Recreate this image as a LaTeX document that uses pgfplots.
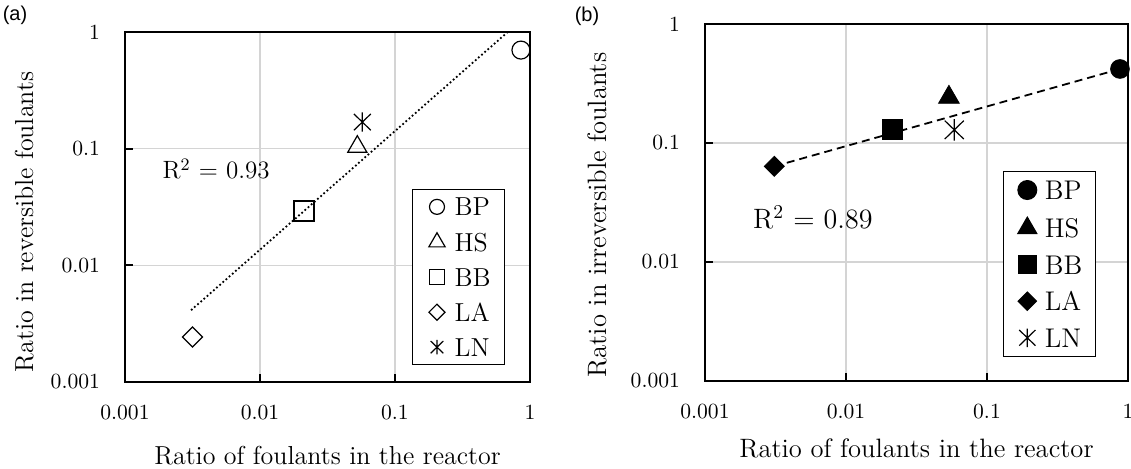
\documentclass[border=0pt]{standalone}
\usepackage{pgfplots}
\pgfplotsset{compat=1.18}
\usepackage{fontspec}
\newfontfamily\arialfont{Liberation Sans}
\pgfdeclareplotmark{xast}{%
  \pgfpathmoveto{\pgfqpoint{0pt}{\pgfplotmarksize}}%
  \pgfpathlineto{\pgfqpoint{0pt}{-\pgfplotmarksize}}%
  \pgfpathmoveto{\pgfqpoint{0.88\pgfplotmarksize}{0.85\pgfplotmarksize}}%
  \pgfpathlineto{\pgfqpoint{-0.88\pgfplotmarksize}{-0.85\pgfplotmarksize}}%
  \pgfpathmoveto{\pgfqpoint{-0.88\pgfplotmarksize}{0.85\pgfplotmarksize}}%
  \pgfpathlineto{\pgfqpoint{0.88\pgfplotmarksize}{-0.85\pgfplotmarksize}}%
  \pgfusepathqstroke}
\begin{document}
\begin{tikzpicture}[x=1pt,y=1pt]
\useasboundingbox (-62.5pt,-43pt) rectangle (503pt,191pt);
\node[font=\arialfont\fontsize{10}{12}\selectfont] at (-55pt,183.5pt) {(a)};
\node[font=\arialfont\fontsize{10}{12}\selectfont] at (231pt,183pt) {(b)};
% ---------------- panel (a)
\begin{axis}[at={(0pt,0pt)}, anchor=south west,
  xmode=log, ymode=log,
  scale only axis,
  width=202.5pt, height=175pt,
  xmin=0.001, xmax=1, ymin=0.001, ymax=1,
  xtick={0.001,0.01,0.1,1}, ytick={0.001,0.01,0.1,1},
  xticklabels={0.001,0.01,0.1,1}, yticklabels={0.001,0.01,0.1,1},
  xminorticks=false, yminorticks=false,
  grid=major,
  major grid style={draw=black!17, line width=0.6pt},
  axis line style={line width=1pt},
  tick align=inside, tick pos=left,
  major tick length=4pt,
  major tick style={black, line width=1pt},
  tick label style={font=\fontsize{10.8}{12}\selectfont},
  xticklabel style={yshift=-8pt},
  yticklabel style={xshift=-9pt},
  label style={font=\fontsize{13}{15}\selectfont},
  clip=false,
  legend cell align=left,
  legend image code/.code={\path (-5pt,0pt) (5pt,0pt); \draw[#1] plot coordinates {(0pt,0pt)};},
  xlabel={Ratio of foulants in the reactor},
  ylabel={Ratio in reversible foulants},
  xlabel style={at={(axis description cs:0.5,-0.209)}, anchor=center},
  ylabel style={at={(axis description cs:-0.249,0.457)}, anchor=center},
  legend style={at={(axis description cs:0.8235,0.30)}, anchor=center, draw=black, line width=0.6pt,
    inner xsep=7pt, inner ysep=4.3pt, font=\fontsize{13}{15}\selectfont, row sep=8.4pt, column sep=3.5pt,
    nodes={text height=9.1pt, text depth=0pt, inner sep=0pt}},
]
\addplot[black, line width=1.25pt, dash pattern=on 0pt off 2.1pt, line cap=round, forget plot] coordinates {(0.00312,0.00417) (0.684,1)};
\addplot[black, only marks, mark=o, mark size=4.5pt, mark options={line width=0.6pt}, forget plot] coordinates {(0.857,0.70)};
\addplot[black, only marks, mark=triangle, mark size=5.5pt, mark options={line width=0.6pt}, forget plot] coordinates {(0.0526,0.104)};
\addplot[black, only marks, mark=square, mark size=5pt, mark options={line width=0.6pt}, forget plot] coordinates {(0.0212,0.0292)};
\addplot[black, only marks, mark=square, mark size=3.54pt, mark options={line width=0.6pt, rotate=45}, forget plot] coordinates {(0.00316,0.00243)};
\addplot[black, only marks, mark=xast, mark size=4.8pt, mark options={line width=0.6pt}, forget plot] coordinates {(0.0573,0.169)};
\addlegendimage{black, mark=o, mark size=3.75pt, mark options={line width=0.6pt}}
\addlegendentry{BP}
\addlegendimage{black, mark=triangle, mark size=4.7pt, mark options={line width=0.6pt}}
\addlegendentry{HS}
\addlegendimage{black, mark=square, mark size=3.75pt, mark options={line width=0.6pt}}
\addlegendentry{BB}
\addlegendimage{black, mark=square, mark size=2.83pt, mark options={line width=0.6pt, rotate=45}}
\addlegendentry{LA}
\addlegendimage{black, mark=xast, mark size=3.6pt, mark options={line width=0.6pt}}
\addlegendentry{LN}
\node[font=\fontsize{12.5}{14}\selectfont] at (axis description cs:0.225,0.609) {R\textsuperscript{2} = 0.93};
\end{axis}
% ---------------- panel (b)
\begin{axis}[at={(290pt,0.5pt)}, anchor=south west,
  xmode=log, ymode=log,
  scale only axis,
  width=211.5pt, height=178.5pt,
  xmin=0.001, xmax=1, ymin=0.001, ymax=1,
  xtick={0.001,0.01,0.1,1}, ytick={0.001,0.01,0.1,1},
  xticklabels={0.001,0.01,0.1,1}, yticklabels={0.001,0.01,0.1,1},
  xminorticks=false, yminorticks=false,
  grid=major,
  major grid style={draw=black!17, line width=0.6pt},
  axis line style={line width=1pt},
  tick align=inside, tick pos=left,
  major tick length=4pt,
  major tick style={black, line width=1pt},
  tick label style={font=\fontsize{10.8}{12}\selectfont},
  xticklabel style={yshift=-8pt},
  yticklabel style={xshift=-9pt},
  label style={font=\fontsize{13.3}{15}\selectfont},
  clip=false,
  legend cell align=left,
  legend image code/.code={\path (-5pt,0pt) (5pt,0pt); \draw[#1] plot coordinates {(0pt,0pt)};},
  xlabel={Ratio of foulants in the reactor},
  ylabel={Ratio in irreversible foulants},
  xlabel style={at={(axis description cs:0.5,-0.188)}, anchor=center},
  ylabel style={at={(axis description cs:-0.255,0.465)}, anchor=center},
  legend style={at={(axis description cs:0.8145,0.328)}, anchor=center, draw=black, line width=0.6pt,
    inner xsep=6.5pt, inner ysep=4.5pt, font=\fontsize{13.5}{15}\selectfont, row sep=8.9pt, column sep=3.5pt,
    nodes={text height=9.4pt, text depth=0pt, inner sep=0pt}},
]
\addplot[black, line width=0.9pt, dash pattern=on 4pt off 2.5pt, forget plot] coordinates {(0.0031,0.0637) (0.877,0.419)};
\addplot[black, only marks, mark=*, mark size=4.7pt, forget plot] coordinates {(0.877,0.419)};
\addplot[black, only marks, mark=triangle*, mark size=6pt, forget plot] coordinates {(0.0537,0.242)};
\addplot[black, only marks, mark=square*, mark size=5pt, forget plot] coordinates {(0.0213,0.129)};
\addplot[black, only marks, mark=square*, mark size=3.54pt, mark options={rotate=45}, forget plot] coordinates {(0.0031,0.0637)};
\addplot[black, only marks, mark=xast, mark size=5.4pt, mark options={line width=0.6pt}, forget plot] coordinates {(0.0586,0.129)};
\addlegendimage{black, mark=*, mark size=4.7pt}
\addlegendentry{BP}
\addlegendimage{black, mark=triangle*, mark size=5.4pt}
\addlegendentry{HS}
\addlegendimage{black, mark=square*, mark size=4.4pt}
\addlegendentry{BB}
\addlegendimage{black, mark=square*, mark size=3.2pt, mark options={rotate=45}}
\addlegendentry{LA}
\addlegendimage{black, mark=xast, mark size=4.6pt, mark options={line width=0.6pt}}
\addlegendentry{LN}
\node[font=\fontsize{14}{16}\selectfont] at (axis description cs:0.255,0.459) {R\textsuperscript{2} = 0.89};
\end{axis}
\end{tikzpicture}
\end{document}
